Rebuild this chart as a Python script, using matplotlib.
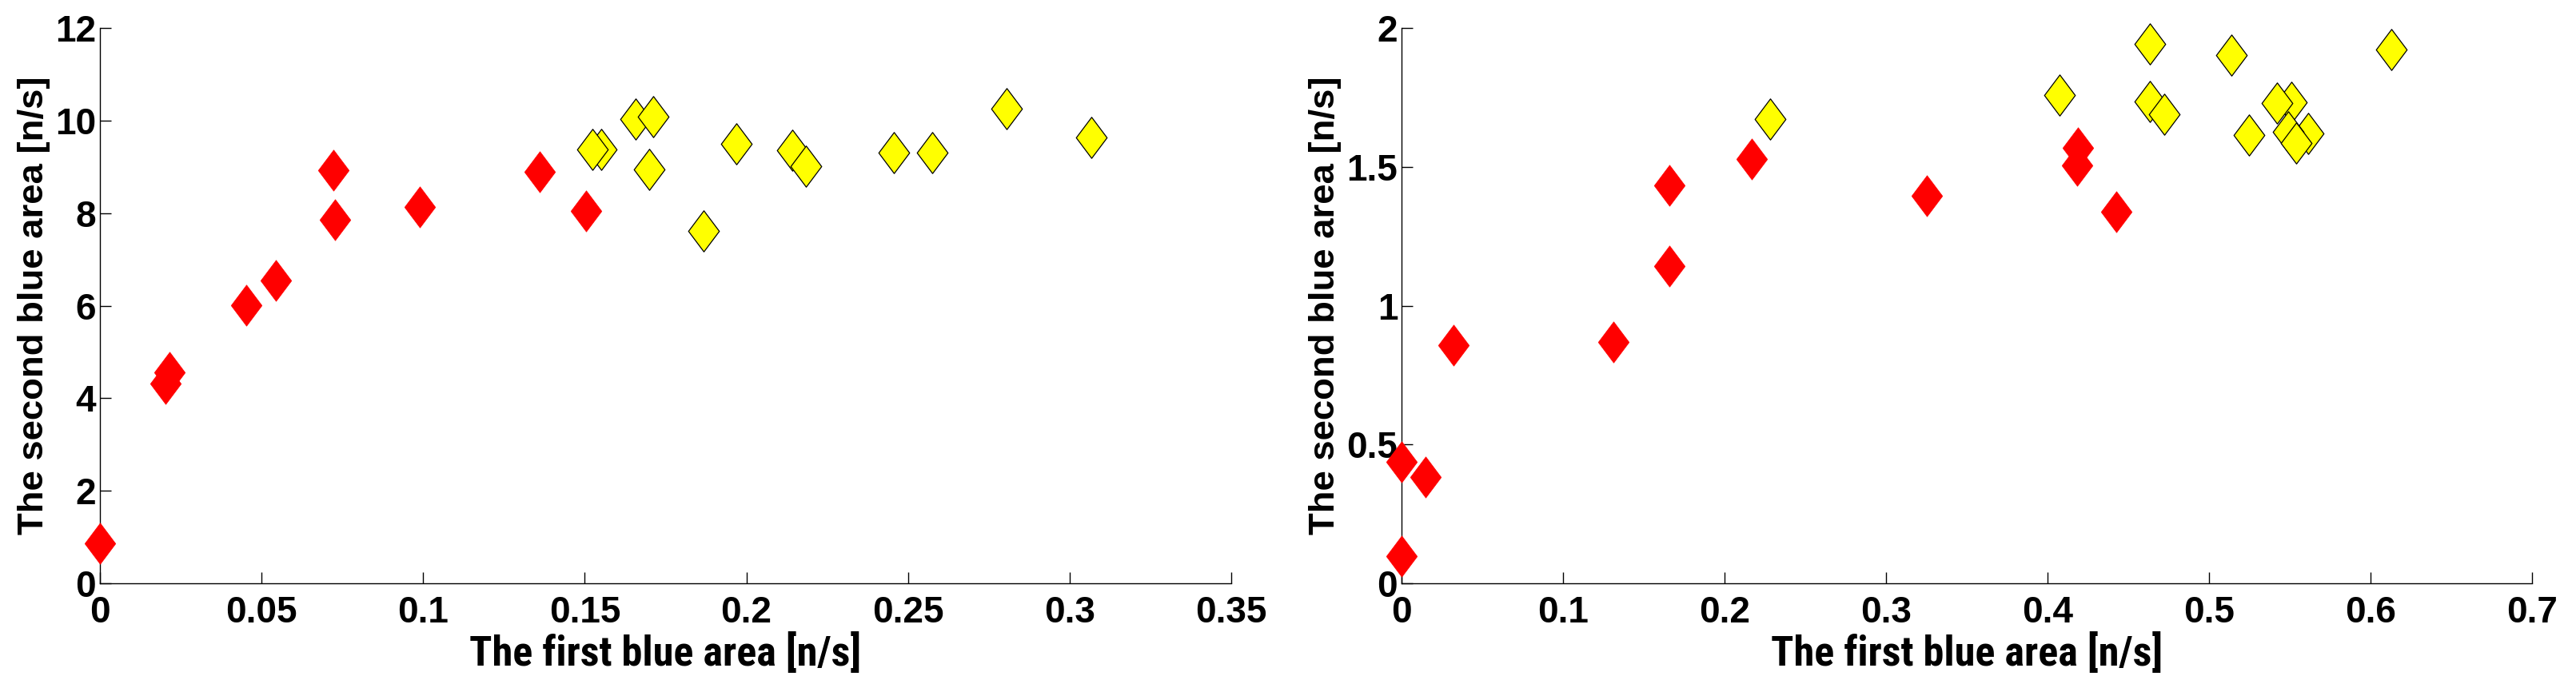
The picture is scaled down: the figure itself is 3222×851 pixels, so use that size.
import matplotlib
matplotlib.use("Agg")
import matplotlib.pyplot as plt
from matplotlib.path import Path
from matplotlib import font_manager
import numpy as np

# ---- data ----
left_red_x = [0, 0.0204, 0.0214, 0.0452, 0.0543, 0.0722, 0.0727, 0.0989, 0.136, 0.1504]
left_red_y = [0.87, 4.32, 4.56, 6.01, 6.55, 8.93, 7.85, 8.14, 8.90, 8.04]
left_yel_x = [0.155, 0.1524, 0.1658, 0.1711, 0.170, 0.1867, 0.197, 0.2142, 0.2185, 0.2455, 0.2574, 0.2806, 0.3066]
left_yel_y = [9.37, 9.37, 10.03, 10.09, 8.95, 7.61, 9.49, 9.36, 9.02, 9.30, 9.31, 10.25, 9.63]

right_red_x = [0, 0, 0.0148, 0.0322, 0.131, 0.1658, 0.1658, 0.217, 0.325, 0.4188, 0.4183, 0.4426]
right_red_y = [0.0986, 0.438, 0.383, 0.858, 0.870, 1.142, 1.432, 1.529, 1.397, 1.568, 1.504, 1.338]
right_yel_x = [0.2282, 0.4073, 0.4632, 0.4635, 0.4721, 0.514, 0.5249, 0.5508, 0.5612, 0.5492, 0.5419, 0.5538, 0.613]
right_yel_y = [1.671, 1.757, 1.942, 1.734, 1.690, 1.901, 1.614, 1.731, 1.621, 1.626, 1.729, 1.586, 1.922]

left_xticks = [0, 0.05, 0.1, 0.15, 0.2, 0.25, 0.3, 0.35]
left_xticklabels = ["0", "0.05", "0.1", "0.15", "0.2", "0.25", "0.3", "0.35"]
left_yticks = [0, 2, 4, 6, 8, 10, 12]
left_yticklabels = ["0", "2", "4", "6", "8", "10", "12"]
right_xticks = [0, 0.1, 0.2, 0.3, 0.4, 0.5, 0.6, 0.7]
right_xticklabels = ["0", "0.1", "0.2", "0.3", "0.4", "0.5", "0.6", "0.7"]
right_yticks = [0, 0.5, 1, 1.5, 2]
right_yticklabels = ["0", "0.5", "1", "1.5", "2"]

xlabel_text = "The first blue area [n/s]"
ylabel_text = "The second blue area [n/s]"

# ---- style ----
W, H, DPI = 3222, 851, 100
fig = plt.figure(figsize=(W / DPI, H / DPI), dpi=DPI)
fig.patch.set_facecolor("white")

installed = {f.name for f in font_manager.fontManager.ttflist}
narrow = None
for cand in ["Liberation Sans Narrow", "Arial Narrow", "Roboto Condensed",
             "Open Sans Condensed", "Noto Sans Condensed"]:
    if cand in installed:
        narrow = cand
        break
xlab_family = [narrow, "Liberation Sans", "DejaVu Sans"] if narrow else ["Liberation Sans", "DejaVu Sans"]

diamond = Path([(0, 1), (0.75, 0), (0, -1), (-0.75, 0), (0, 1)],
               [Path.MOVETO, Path.LINETO, Path.LINETO, Path.LINETO, Path.CLOSEPOLY])

tick_font = dict(family=["Liberation Sans", "DejaVu Sans"], weight="bold", size=33)
ylab_font = dict(family=["Liberation Sans", "DejaVu Sans"], weight="bold", size=32)
xlab_font = dict(family=xlab_family, weight="bold", size=40 if narrow else 33)

def setup(ax, xlim, ylim, xt, xtl, yt, ytl, ylab_x):
    ax.set_xlim(*xlim)
    ax.set_ylim(*ylim)
    for s in ("top", "right"):
        ax.spines[s].set_visible(False)
    for s in ("left", "bottom"):
        ax.spines[s].set_linewidth(1.0)
    ax.set_xticks(xt)
    ax.set_xticklabels(xtl, fontdict=tick_font)
    ax.set_yticks(yt)
    ax.set_yticklabels(ytl, fontdict=tick_font)
    ax.tick_params(axis="both", direction="in", length=10, width=1.0)
    ax.tick_params(axis="x", pad=10.5)
    ax.tick_params(axis="y", pad=3.5)
    ax.set_xlabel(xlabel_text, fontdict=xlab_font)
    ax.xaxis.set_label_coords(0.5, (730 - 833) / 695)
    ax.xaxis.label.set_va("baseline")
    ax.set_ylabel(ylabel_text, fontdict=ylab_font)
    ax.yaxis.set_label_coords(ylab_x, 0.5)

def draw(ax, rx, ry, yx, yy):
    ax.plot(rx, ry, linestyle="none", marker=diamond, markersize=37,
            markerfacecolor="#FF0000", markeredgecolor="#FF0000",
            markeredgewidth=0.5, clip_on=False, zorder=3)
    for x, y in zip(yx, yy):
        ax.plot([x], [y], linestyle="none", marker=diamond, markersize=37,
                markerfacecolor="#FFFF00", markeredgecolor="black",
                markeredgewidth=0.9, clip_on=False, zorder=3)

axL = fig.add_axes([125 / W, (H - 730) / H, (1540 - 125) / W, (730 - 35) / H])
axR = fig.add_axes([1753 / W, (H - 730) / H, (3167 - 1753) / W, (730 - 35) / H])

setup(axL, (0, 0.35), (0, 12), left_xticks, left_xticklabels,
      left_yticks, left_yticklabels, (63 - 125) / (1540 - 125))
setup(axR, (0, 0.7), (0, 2), right_xticks, right_xticklabels,
      right_yticks, right_yticklabels, (1678 - 1753) / (3167 - 1753))

draw(axL, left_red_x, left_red_y, left_yel_x, left_yel_y)
draw(axR, right_red_x, right_red_y, right_yel_x, right_yel_y)

# fit label sizes to the reference extents (x label ~490 px wide, y label ~575 px tall)
fig.canvas.draw()
r = fig.canvas.get_renderer()
for ax in (axL, axR):
    xl = ax.xaxis.label
    w = xl.get_window_extent(r).width
    xl.set_fontsize(xl.get_fontsize() * 490.0 / w)
    yl = ax.yaxis.label
    h = yl.get_window_extent(r).height
    yl.set_fontsize(yl.get_fontsize() * 575.0 / h)

fig.savefig("out.png", dpi=DPI, facecolor="white")
